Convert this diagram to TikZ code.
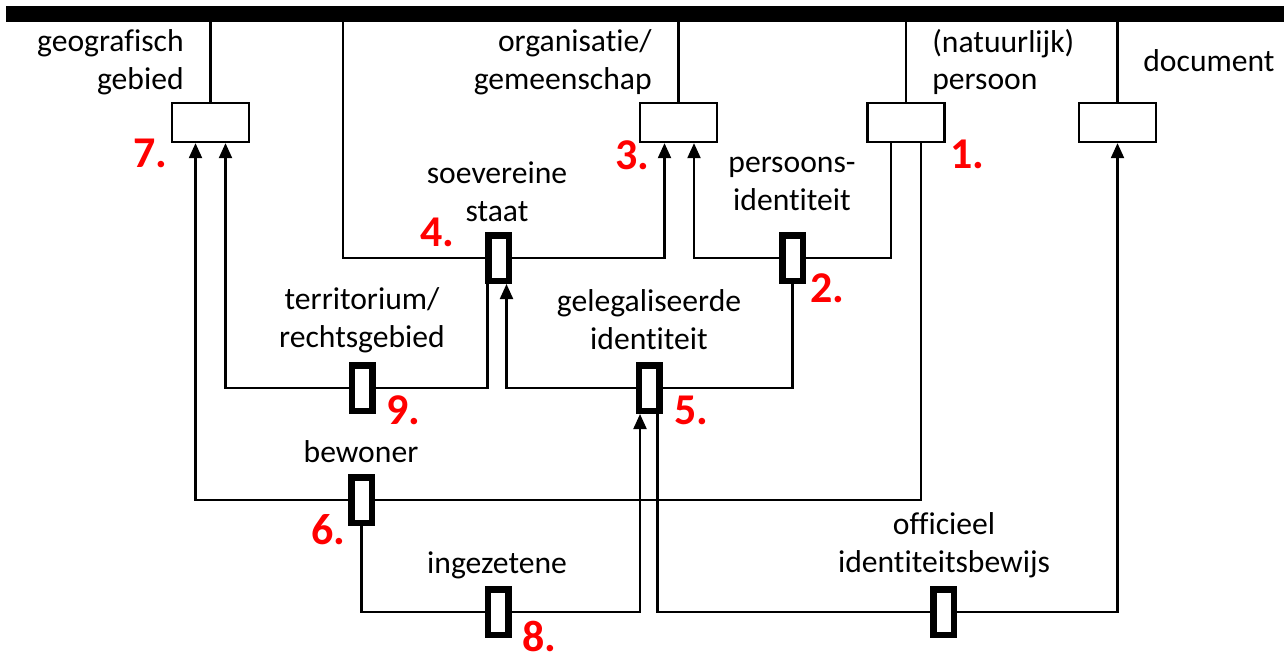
\documentclass[tikz,border=0pt]{standalone}
\usepackage{fontspec}
\setmainfont{Carlito}[Ligatures=NoCommon]
\usepackage{tikz}
\usetikzlibrary{arrows.meta,positioning}
\definecolor{numberred}{RGB}{255,0,0}

\tikzset{
    entity/.style={draw,line width=1.3pt,minimum width=1.54cm,minimum height=0.78cm,inner sep=0pt},
    relbox/.style={draw,line width=3.7pt,minimum width=0.41cm,minimum height=0.91cm,inner sep=0pt},
    conn/.style={line width=1.2pt},
    toent/.style={conn,-{Triangle[length=0.3cm,width=0.26cm]}},
    lbl/.style={font=\fontsize{18}{21.5}\selectfont,inner sep=0pt},
    num/.style={font=\fontsize{25}{30}\selectfont\bfseries,text=numberred,inner sep=0pt}
}

\begin{document}
\begin{tikzpicture}[x=0.02cm,y=-0.02cm]
    \useasboundingbox (0,0) rectangle (1284,657);

    % Top bar
    \node[fill=black,minimum width=25.56cm,minimum height=0.32cm,inner sep=0pt,outer sep=0pt] (bar) at (645,14) {};

    % Entity types
    \node[entity] (geo) at (210.5,122.5) {};
    \node[entity] (org) at (678.5,122.5) {};
    \node[entity] (pers) at (906,122.5) {};
    \node[entity] (doc) at (1117.5,122.5) {};
    \foreach \e in {geo,org,pers,doc}
        \draw[conn] (\e.north) -- (\e.north |- bar.south);

    \node[lbl,anchor=east,align=right] (lbl-geo) at (184,62) {geografisch\\gebied};
    \node[lbl,anchor=east,align=right] (lbl-org) at (652,62) {organisatie/\\gemeenschap};
    \node[lbl,anchor=west,align=left] (lbl-pers) at (932,62) {(natuurlijk)\\persoon};
    \node[lbl,anchor=west] (lbl-doc) at (1143,61) {document};

    % Relations
    \node[relbox] (staat) at (498.5,258) {};
    \node[relbox] (pid) at (792.5,258) {};
    \node[relbox] (terr) at (362,388) {};
    \node[relbox] (legal) at (649,388) {};
    \node[relbox] (bew) at (361.5,500) {};
    \node[relbox] (inz) at (498,612) {};
    \node[relbox] (bewijs) at (943.5,612) {};

    \node[lbl,align=center] (lbl-staat) at (497,192) {soevereine\\staat};
    \node[lbl,align=center] (lbl-pid) at (792,184) {persoons-\\identiteit};
    \node[lbl,align=center] (lbl-terr) at (362,320) {territorium/\\rechtsgebied};
    \node[lbl,align=center] (lbl-legal) at (649,320) {gelegaliseerde\\identiteit};
    \node[lbl] (lbl-bew) at (361,452) {bewoner};
    \node[lbl] (lbl-inz) at (497,565) {ingezetene};
    \node[lbl,align=center] (lbl-bewijs) at (944,545) {officieel\\identiteitsbewijs};

    % Attachment points
    \coordinate (top-staat) at (343,22);
    \coordinate (geo-l) at ([xshift=-0.3cm]geo.south);
    \coordinate (geo-r) at ([xshift=0.3cm]geo.south);
    \coordinate (org-l) at ([xshift=-0.28cm]org.south);
    \coordinate (org-r) at ([xshift=0.31cm]org.south);
    \coordinate (pers-l) at ([xshift=-0.3cm]pers.south);
    \coordinate (pers-r) at ([xshift=0.3cm]pers.south);
    \coordinate (staat-l) at ([xshift=-0.22cm]staat.south);
    \coordinate (staat-r) at ([xshift=0.16cm]staat.south);
    \coordinate (legal-l) at ([xshift=-0.18cm]legal.south);
    \coordinate (legal-r) at ([xshift=0.17cm]legal.south);

    % Connectors
    \draw[conn] (staat.west) -| (top-staat);
    \draw[toent] (staat.east) -| (org-l);
    \draw[toent] (pid.west) -| (org-r);
    \draw[conn] (pid.east) -| (pers-l);
    \draw[toent] (terr.west) -| (geo-r);
    \draw[conn] (terr.east) -| (staat-l);
    \draw[toent] (legal.west) -| (staat-r);
    \draw[conn] (legal.east) -| (pid.south);
    \draw[toent] (bew.west) -| (geo-l);
    \draw[conn] (bew.east) -| (pers-r);
    \draw[conn] (bew.south) |- (inz.west);
    \draw[toent] (inz.east) -| (legal-l);
    \draw[conn] (legal-r) |- (bewijs.west);
    \draw[toent] (bewijs.east) -| (doc.south);

    % Numbers
    \node[num] (n1) at (967,154) {1.};
    \node[num] (n2) at (827,288) {2.};
    \node[num] (n3) at (632,155) {3.};
    \node[num] (n4) at (437,232) {4.};
    \node[num] (n5) at (691,410) {5.};
    \node[num] (n6) at (328,530) {6.};
    \node[num] (n7) at (150,153) {7.};
    \node[num] (n8) at (539,636) {8.};
    \node[num] (n9) at (403,410) {9.};
\end{tikzpicture}
\end{document}
